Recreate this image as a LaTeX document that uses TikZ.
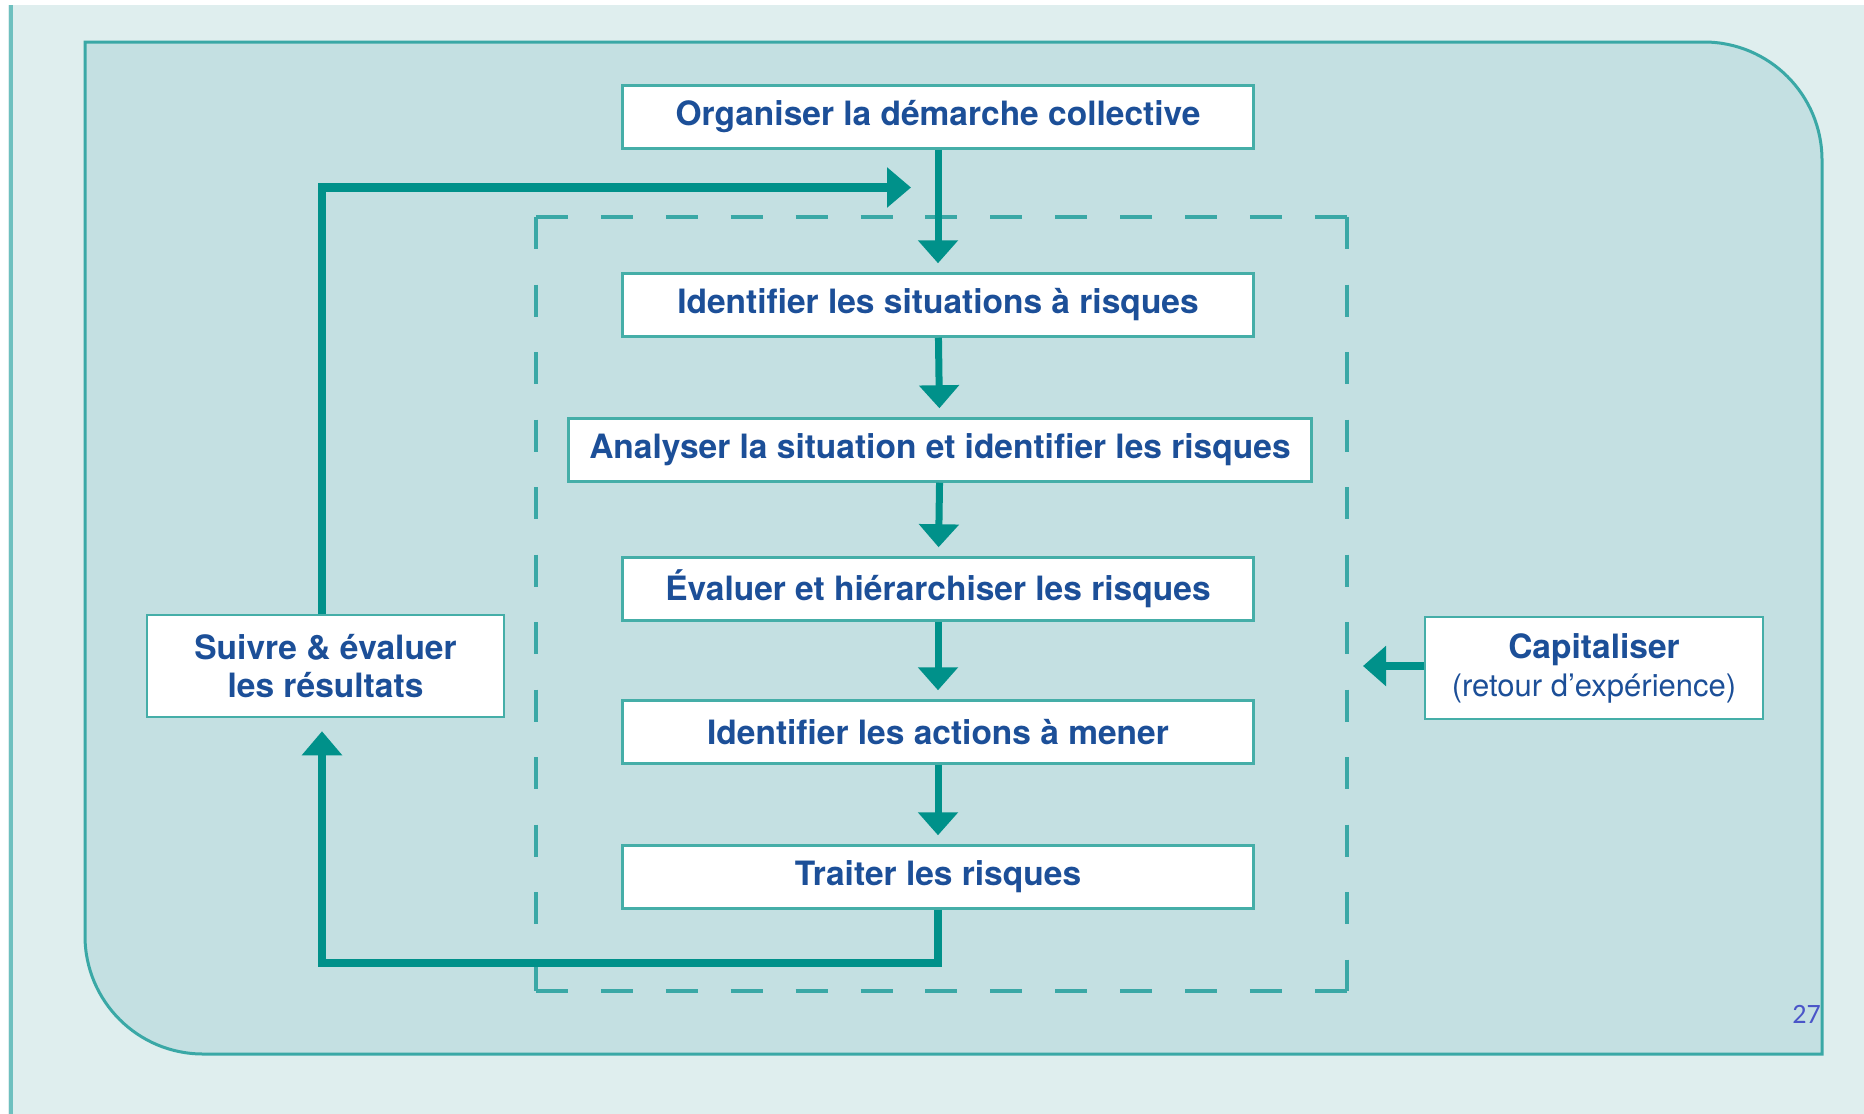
\documentclass[tikz,border=0pt]{standalone}
\usepackage{fontspec}
\usetikzlibrary{arrows.meta,calc}
\newfontfamily\hv{TeX Gyre Heros}
\newfontfamily\carl{Carlito}
\definecolor{bgl}{HTML}{DFEEEE}
\definecolor{leftln}{HTML}{6EC0BF}
\definecolor{panelfill}{HTML}{C4E0E2}
\definecolor{panelline}{HTML}{3AA8A6}
\definecolor{tealc}{HTML}{00918A}
\definecolor{boxline}{HTML}{45AEA8}
\definecolor{txtblue}{HTML}{1C4F98}
\definecolor{pgnum}{HTML}{4A55C8}
\tikzset{
  stepbox/.style={draw=boxline, line width=2.5pt, fill=white, minimum height=63pt,
    inner sep=0pt, align=center, text=txtblue, font=\hv\fontsize{33.5}{38}\selectfont\bfseries},
  sidebox/.style={stepbox, minimum height=102pt},
  conn/.style={draw=tealc, line width=7pt, -{Triangle[width=39pt,length=23pt]}, shorten >=9pt},
  loopc/.style={draw=tealc, line width=8.5pt, line join=miter},
  looparr/.style={loopc, -{Triangle[width=39pt,length=24pt]}},
  dashh/.style={draw=panelline, line width=3.5pt, dash pattern=on 32pt off 32.9pt},
  dashv/.style={draw=panelline, line width=3.5pt, dash pattern=on 32pt off 35.5pt}
}
\begin{document}
\begin{tikzpicture}[x=1pt,y=-1pt]
\useasboundingbox (0,0) rectangle (1864,1114);
\fill[white] (0,0) rectangle (1864,1114);
\fill[bgl] (8,5) rectangle (1864,1114);
\draw[leftln, line width=4pt] (10.5,5) -- (10.5,1114);
% panel
\filldraw[fill=panelfill, draw=panelline, line width=3pt]
  (85,42) -- (1704,42) arc[start angle=90, end angle=0, radius=118pt]
  -- (1822,1054) -- (203,1054) arc[start angle=270, end angle=180, radius=118pt]
  -- cycle;
% dashed frame
\coordinate (d1) at (536,217);
\coordinate (d2) at (1347,217);
\coordinate (d3) at (1347,991);
\coordinate (d4) at (536,991);
\draw[dashh] (d1) -- (d2);
\draw[dashv] (d2) -- (d3);
\draw[dashh] (d4) -- (d3);
\draw[dashv] (d1) -- (d4);
% nodes
\node[stepbox, minimum width=631pt] (org) at (938,117) {Organiser la démarche collective};
\node[stepbox, minimum width=631pt] (ids) at (938,305) {Identifier les situations à risques};
\node[stepbox, minimum width=743pt] (ana) at (940,450) {Analyser la situation et identifier les risques};
\node[stepbox, minimum width=631pt] (eva) at (938,589) {Évaluer et hiérarchiser les risques};
\node[stepbox, minimum width=631pt] (ida) at (938,732) {Identifier les actions à mener};
\node[stepbox, minimum width=631pt] (tra) at (938,877) {Traiter les risques};
\node[sidebox, minimum width=357pt] (sui) at (325.5,666) {Suivre \& évaluer\\les résultats};
\node[sidebox, minimum width=338pt] (cap) at (1594,668) {Capitaliser\\{\mdseries\fontsize{31}{38}\selectfont (retour d’expérience)}};
\node[anchor=base east, text=pgnum, font=\carl\fontsize{28}{30}\selectfont, inner sep=0pt] (pg) at (1821,1023) {27};
% coordinates for the loop
\coordinate (lt) at (322,187.5);
\coordinate (lb) at (322,963);
\coordinate (tt) at (911,187.5);
\coordinate (ct) at (1363,666);
% connectors
\draw[conn] (org) -- (ids);
\draw[conn] (ids) -- (ana);
\draw[conn] (ana) -- (eva);
\draw[conn] (eva) -- (ida);
\draw[conn] (ida) -- (tra);
\draw[looparr] (sui.north -| lt) -- (lt) -- (tt);
\draw[looparr, shorten >=13pt] (tra.south) -- (tra.south |- lb) -- (lb) -- (sui.south -| lb);
\draw[conn, line width=8pt, shorten >=0pt] (cap.west |- ct) -- (ct);
\end{tikzpicture}
\end{document}
